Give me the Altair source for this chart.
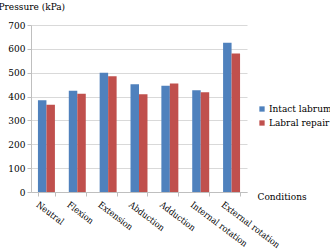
import altair as alt
import pandas as pd

conditions = ["Neutral", "Flexion", "Extension", "Abduction", "Adduction",
              "Internal rotation", "External rotation"]
series = ["Intact labrum", "Labral repair"]
intact = [385, 424, 500, 452, 445, 426, 626]
repair = [366, 412, 485, 410, 455, 418, 581]
y_ticks = [0, 100, 200, 300, 400, 500, 600, 700]

rows = []
for c, a, b in zip(conditions, intact, repair):
    rows.append({"Condition": c, "Series": series[0], "Pressure": a})
    rows.append({"Condition": c, "Series": series[1], "Pressure": b})
df = pd.DataFrame(rows)

FONT = "DejaVu Serif Condensed"

chart = alt.Chart(df).mark_bar().encode(
    x=alt.X("Condition:N", sort=conditions,
            scale=alt.Scale(paddingInner=0.45, paddingOuter=0.225),
            axis=alt.Axis(title="Conditions", labelAngle=37, labelAlign="left",
                          labelBaseline="top", labelOffset=-7, labelPadding=4,
                          tickBand="extent", tickSize=4, tickColor="#bfbfbf",
                          domainColor="#bfbfbf", labelFontSize=9,
                          labelColor="#000", titleFontSize=10,
                          titleFontWeight="normal", titleColor="#000",
                          titleAlign="left", titleBaseline="middle",
                          titleX=226, titleY=4, grid=False, labelLimit=0)),
    xOffset=alt.XOffset("Series:N", sort=series, scale=alt.Scale(paddingInner=0, paddingOuter=0)),
    y=alt.Y("Pressure:Q", scale=alt.Scale(domain=[0, 700]),
            axis=alt.Axis(title="Pressure (kPa)", values=y_ticks, tickSize=4,
                          tickColor="#bfbfbf", domainColor="#bfbfbf",
                          gridColor="#d9d9d9", labelFontSize=10,
                          labelColor="#000", labelPadding=2,
                          titleFontSize=10, titleFontWeight="normal",
                          titleColor="#000", titleAngle=0, titleAlign="left",
                          titleBaseline="alphabetic", titleX=-33, titleY=-16)),
    color=alt.Color("Series:N", sort=series,
                    scale=alt.Scale(domain=series, range=["#4F81BD", "#C0504D"]),
                    legend=alt.Legend(title=None, orient="none", legendX=226, legendY=79,
                                      symbolType="square", symbolSize=28,
                                      symbolStrokeWidth=0,
                                      labelFontSize=10, labelColor="#000",
                                      labelOffset=2, rowPadding=4, labelLimit=0)),
).properties(
    width=216, height=167,
    autosize=alt.AutoSizeParams(type="none"),
    padding={"left": 31, "top": 25, "right": 83, "bottom": 58},
).configure(font=FONT).configure_view(stroke=None)

chart.save("out.html", embed_options={"renderer": "svg", "actions": False})
